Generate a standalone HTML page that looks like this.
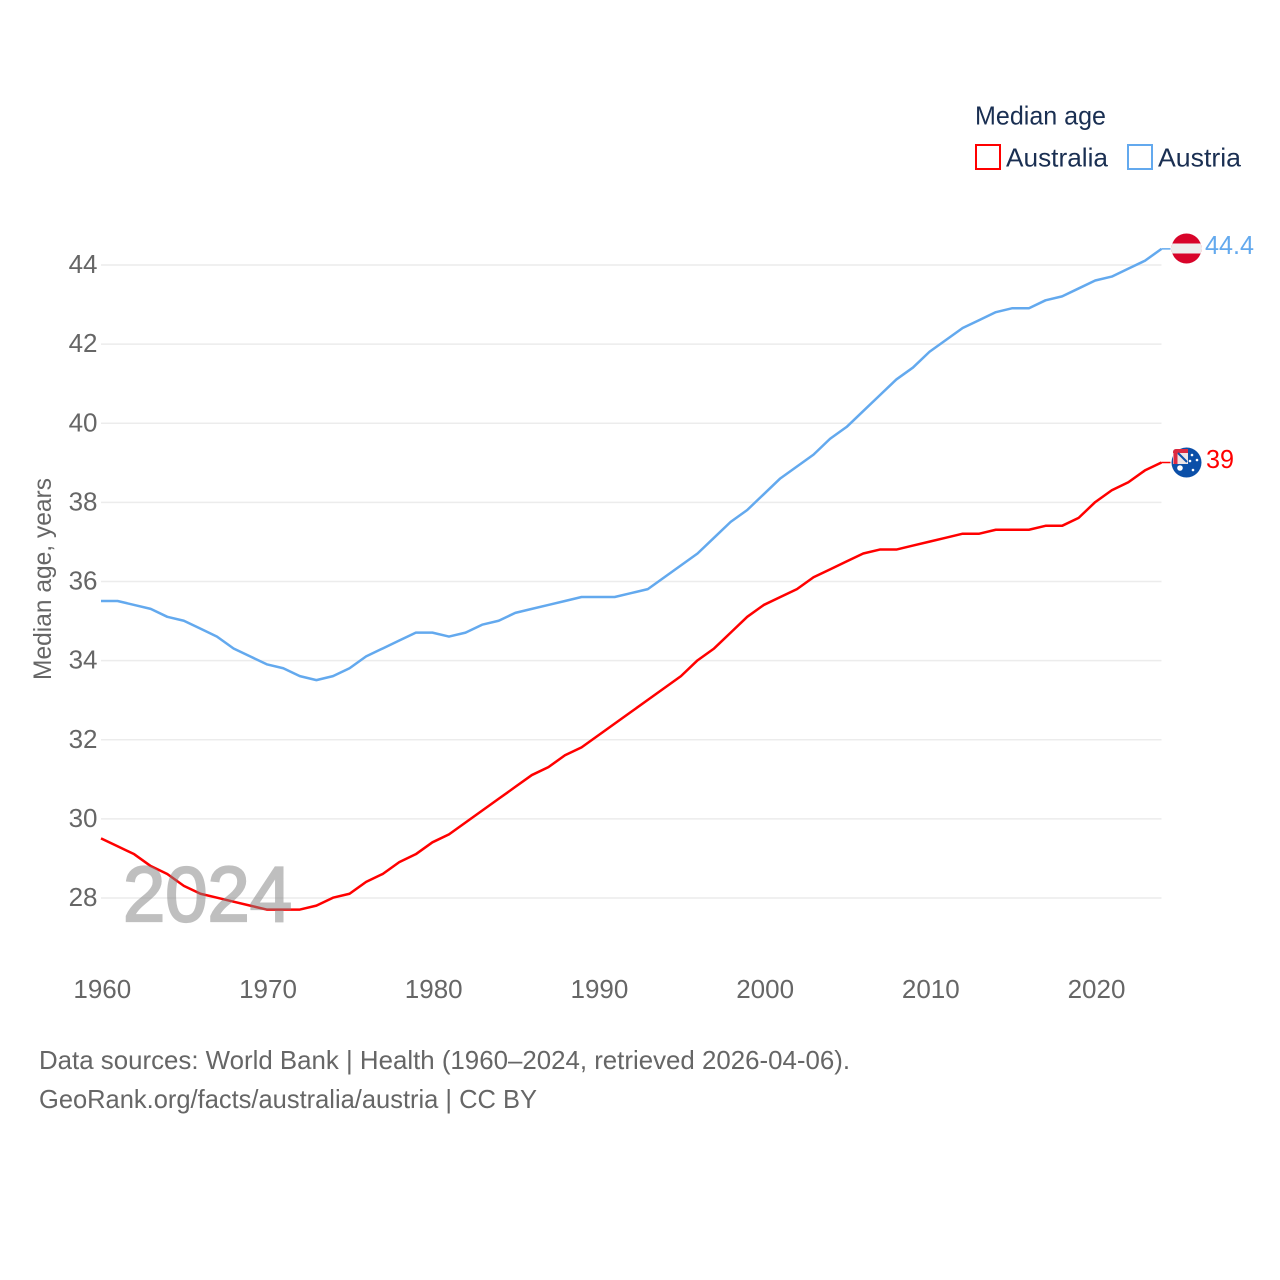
<!DOCTYPE html>
<html lang="en">
<head>
<meta charset="utf-8">
<title>Median age: Australia and Austria</title>
<style>
html,body{margin:0;padding:0;background:#fff;}
svg{display:block;font-family:"Liberation Sans",sans-serif;}
</style>
</head>
<body>
<svg id="chart" xmlns="http://www.w3.org/2000/svg" width="1280" height="1280" viewBox="0 0 1280 1280">
  <rect width="1280" height="1280" fill="#fff"/>
  <defs>
    <clipPath id="clip-at"><circle cx="1186.500" cy="248.500" r="15"/></clipPath>
    <clipPath id="clip-au">
      <circle cx="1186.500" cy="462.500" r="15"/>
      <rect x="1173" y="449" width="15" height="15" rx="3"/>
    </clipPath>
  </defs>
  <g id="grid"></g>
  <g id="yticks"></g>
  <g id="xticks"></g>
  <text transform="translate(51,579) rotate(-90)" text-anchor="middle" font-size="25" fill="#666" textLength="202" lengthAdjust="spacingAndGlyphs">Median age, years</text>
  <g id="series"></g>
  <text x="123" y="921" font-size="78" font-weight="400" fill="#808080" stroke="#808080" stroke-width="2.200" opacity="0.5" textLength="169" lengthAdjust="spacingAndGlyphs">2024</text>

  <g>
    <text x="975" y="124.500" font-size="26" fill="#1a2f52" textLength="131" lengthAdjust="spacingAndGlyphs">Median age</text>
    <g>
      <rect x="976" y="145" width="24" height="24" fill="none" stroke="#ff0000" stroke-width="2"/>
      <text x="1006" y="166.500" font-size="26" fill="#1a2f52" textLength="102" lengthAdjust="spacingAndGlyphs">Australia</text>
    </g>
    <g>
      <rect x="1128" y="145" width="24" height="24" fill="none" stroke="#63a9ee" stroke-width="2"/>
      <text x="1158" y="166.500" font-size="26" fill="#1a2f52" textLength="83" lengthAdjust="spacingAndGlyphs">Austria</text>
    </g>
  </g>

  <g clip-path="url(#clip-at)">
    <rect x="1171" y="233" width="31" height="31" fill="#d8042a"/>
    <rect x="1171" y="243.500" width="31" height="10" fill="#eeeeee"/>
  </g>
  <text x="1205" y="254" font-size="26" fill="#63a9ee" textLength="49" lengthAdjust="spacingAndGlyphs">44.4</text>

  <g clip-path="url(#clip-au)">
    <rect x="1171" y="447" width="31" height="31" fill="#0b4fa8"/>
    <rect x="1173" y="449" width="15" height="15" fill="#ece4e6"/>
    <path d="M1173 451 H1188 M1175.500 449 V464" stroke="#dc2a40" stroke-width="4"/>
    <path d="M1178 453 L1187 462" stroke="#0b4fa8" stroke-width="2"/>
    <circle cx="1180" cy="468" r="2.800" fill="#fff"/>
    <circle cx="1192" cy="455" r="1.300" fill="#fff"/>
    <circle cx="1197" cy="460" r="1.300" fill="#fff"/>
    <circle cx="1190" cy="461" r="1.300" fill="#fff"/>
    <circle cx="1193" cy="470" r="1.300" fill="#fff"/>
  </g>
  <text x="1206" y="468" font-size="26" fill="#ff0000" textLength="28" lengthAdjust="spacingAndGlyphs">39</text>

  <text x="39" y="1069" font-size="26" fill="#666" textLength="811" lengthAdjust="spacingAndGlyphs">Data sources: World Bank | Health (1960–2024, retrieved 2026-04-06).</text>
  <text x="39" y="1108" font-size="26" fill="#666" textLength="498" lengthAdjust="spacingAndGlyphs">GeoRank.org/facts/australia/austria | CC BY</text>
</svg>
<script>
const years = [1960,1961,1962,1963,1964,1965,1966,1967,1968,1969,1970,1971,1972,1973,1974,1975,1976,1977,1978,1979,1980,1981,1982,1983,1984,1985,1986,1987,1988,1989,1990,1991,1992,1993,1994,1995,1996,1997,1998,1999,2000,2001,2002,2003,2004,2005,2006,2007,2008,2009,2010,2011,2012,2013,2014,2015,2016,2017,2018,2019,2020,2021,2022,2023,2024];
const australiaValues = [29.5,29.3,29.1,28.8,28.6,28.3,28.1,28.0,27.9,27.8,27.7,27.7,27.7,27.8,28.0,28.1,28.4,28.6,28.9,29.1,29.4,29.6,29.9,30.2,30.5,30.8,31.1,31.3,31.6,31.8,32.1,32.4,32.7,33.0,33.3,33.6,34.0,34.3,34.7,35.1,35.4,35.6,35.8,36.1,36.3,36.5,36.7,36.8,36.8,36.9,37.0,37.1,37.2,37.2,37.3,37.3,37.3,37.4,37.4,37.6,38.0,38.3,38.5,38.8,39.0];
const austriaValues = [35.5,35.5,35.4,35.3,35.1,35.0,34.8,34.6,34.3,34.1,33.9,33.8,33.6,33.5,33.6,33.8,34.1,34.3,34.5,34.7,34.7,34.6,34.7,34.9,35.0,35.2,35.3,35.4,35.5,35.6,35.6,35.6,35.7,35.8,36.1,36.4,36.7,37.1,37.5,37.8,38.2,38.6,38.9,39.2,39.6,39.9,40.3,40.7,41.1,41.4,41.8,42.1,42.4,42.6,42.8,42.9,42.9,43.1,43.2,43.4,43.6,43.7,43.9,44.1,44.4];
const yTickValues = [28,30,32,34,36,38,40,42,44];
const xTickValues = [1960,1970,1980,1990,2000,2010,2020];

const SVGNS = 'http://www.w3.org/2000/svg';
function xScale(year){ return 101 + (year - 1960) * (1060.5 / 64); }
function yScale(value){ return 897.7 - (value - 28) * (633 / 16); }
function make(tag, attrs, parent){
  const el = document.createElementNS(SVGNS, tag);
  for (const k in attrs) el.setAttribute(k, attrs[k]);
  parent.appendChild(el);
  return el;
}
const gridGroup = document.getElementById('grid');
const yGroup = document.getElementById('yticks');
const xGroup = document.getElementById('xticks');
const seriesGroup = document.getElementById('series');

yTickValues.forEach(function(v){
  const line = make('line', {x1:101, x2:1161.5, y1:yScale(v) + 0.3, y2:yScale(v) + 0.3, stroke:'#ececec', 'stroke-width':1.6}, gridGroup);
  
  
  const label = make('text', {x:97.5, y:yScale(v) + 8.3, 'text-anchor':'end', 'font-size':26, fill:'#666'}, yGroup);
  
  
  label.textContent = v;
});
xTickValues.forEach(function(y){
  const label = make('text', {x:xScale(y) + 1.3, y:998, 'text-anchor':'middle', 'font-size':26, fill:'#666'}, xGroup);
  
  
  label.textContent = y;
});
function drawSeries(values, color, name){
  const pts = values.map(function(v, i){ return xScale(years[i]).toFixed(2) + ',' + yScale(v).toFixed(2); });
  const line = make('polyline', {points:pts.join(' '), fill:'none', stroke:color, 'stroke-width':2.5, 'stroke-linejoin':'round'}, seriesGroup);
  
  
  const last = values[values.length - 1];
  const lastX = xScale(years[years.length - 1]);
  const conn = make('line', {x1:lastX, x2:lastX + 9, y1:yScale(last), y2:yScale(last), stroke:color, 'stroke-width':1.5}, seriesGroup);
  
  
}
drawSeries(austriaValues, '#63a9ee', 'austria');
drawSeries(australiaValues, '#ff0000', 'australia');
</script>
</body>
</html>
